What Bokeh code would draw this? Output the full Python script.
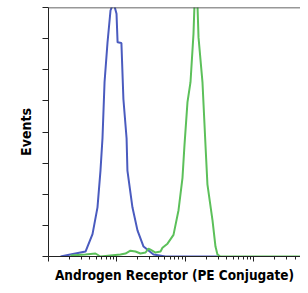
from bokeh.plotting import figure
from bokeh.models import FixedTicker, Range1d, Span
from bokeh.embed import file_html
from bokeh.resources import INLINE

# Blue histogram (isotype / negative control)
blue_x = [1.50, 2.09, 3.47, 4.39, 5.19, 5.74, 6.14, 6.58, 7.26, 8.04, 8.89, 9.84,
          10.2, 11.6, 12.4, 13.8, 14.2, 16.8, 19.9, 24.4, 34.1, 51.0, 295]
blue_y = [0, 1.6, 4, 18, 39.5, 69, 95, 140, 171.5, 197.6, 204, 195,
          172, 171.5, 126.5, 95, 69, 39.5, 21, 8, 1.6, 0, 0]

# Green histogram (Androgen Receptor PE)
green_x = [2.09, 3.47, 4.85, 5.74, 11.2, 13.3, 15.7, 18.6, 22.0, 26.1, 28.8, 30.8,
           36.5, 43.2, 46.1, 54.6, 66.8, 79.1, 90.4, 96.6, 106.9, 118.3, 130.9,
           135.2, 149.6, 154.9, 177, 196, 209, 248, 274, 293, 324, 6300]
green_y = [0.8, 1.6, 2.4, 0, 1.6, 2.4, 4.7, 4, 2.4, 3.2, 6.3, 5.5,
           3.2, 4, 7, 10.3, 17.4, 37.2, 63.2, 89.3, 124, 140, 179,
           202, 202, 176, 140, 89, 58, 29, 8, 1.6, 0, 0]

x_major = [1, 10, 100, 1000]
x_minor = [m * d for d in [1, 10, 100, 1000] for m in range(2, 10)]
y_ticks = [0, 25, 50, 75, 100, 125, 150, 175, 200]

FONT = "'DejaVu Sans Condensed', Roboto, sans-serif"

p = figure(width=300, height=285, x_axis_type="log",
           x_range=Range1d(1, 4775), y_range=Range1d(0, 200),
           output_backend="svg", toolbar_location=None,
           min_border_left=48, min_border_right=0, min_border_top=7,
           min_border_bottom=24)

p.line(blue_x, blue_y, line_color="#4a5bbf", line_width=2)
p.line(green_x, green_y, line_color="#5cc05a", line_width=2)

p.outline_line_color = None
p.grid.visible = False
p.background_fill_color = "white"
p.border_fill_color = "white"

p.add_layout(Span(location=200, dimension="width", line_color="#333333", line_width=1.5))

xa = p.xaxis[0]
xa.ticker = FixedTicker(ticks=x_major, minor_ticks=x_minor)
xa.major_label_overrides = {t: "" for t in x_major}
xa.axis_label = "Androgen Receptor (PE Conjugate)"
xa.axis_label_text_font = FONT
xa.axis_label_text_font_style = "bold"
xa.axis_label_text_font_size = "13.5px"
xa.axis_label_text_color = "black"
xa.axis_label_standoff = 5
xa.major_label_standoff = 0
xa.major_tick_out = 5
xa.major_tick_in = 0
xa.minor_tick_out = 3
xa.minor_tick_in = 0
xa.axis_line_color = "#222222"
xa.major_tick_line_color = "#222222"
xa.minor_tick_line_color = "#222222"

ya = p.yaxis[0]
ya.ticker = FixedTicker(ticks=y_ticks, minor_ticks=[])
ya.major_label_overrides = {t: "" for t in y_ticks}
ya.axis_label = "Events"
ya.axis_label_text_font = FONT
ya.axis_label_text_font_style = "bold"
ya.axis_label_text_font_size = "14px"
ya.axis_label_text_color = "black"
ya.axis_label_standoff = 9
ya.major_label_standoff = 0
ya.major_tick_out = 6
ya.major_tick_in = 0
ya.minor_tick_line_color = None
ya.axis_line_color = "#222222"
ya.major_tick_line_color = "#222222"

open("out.html", "w").write(file_html(p, INLINE))
